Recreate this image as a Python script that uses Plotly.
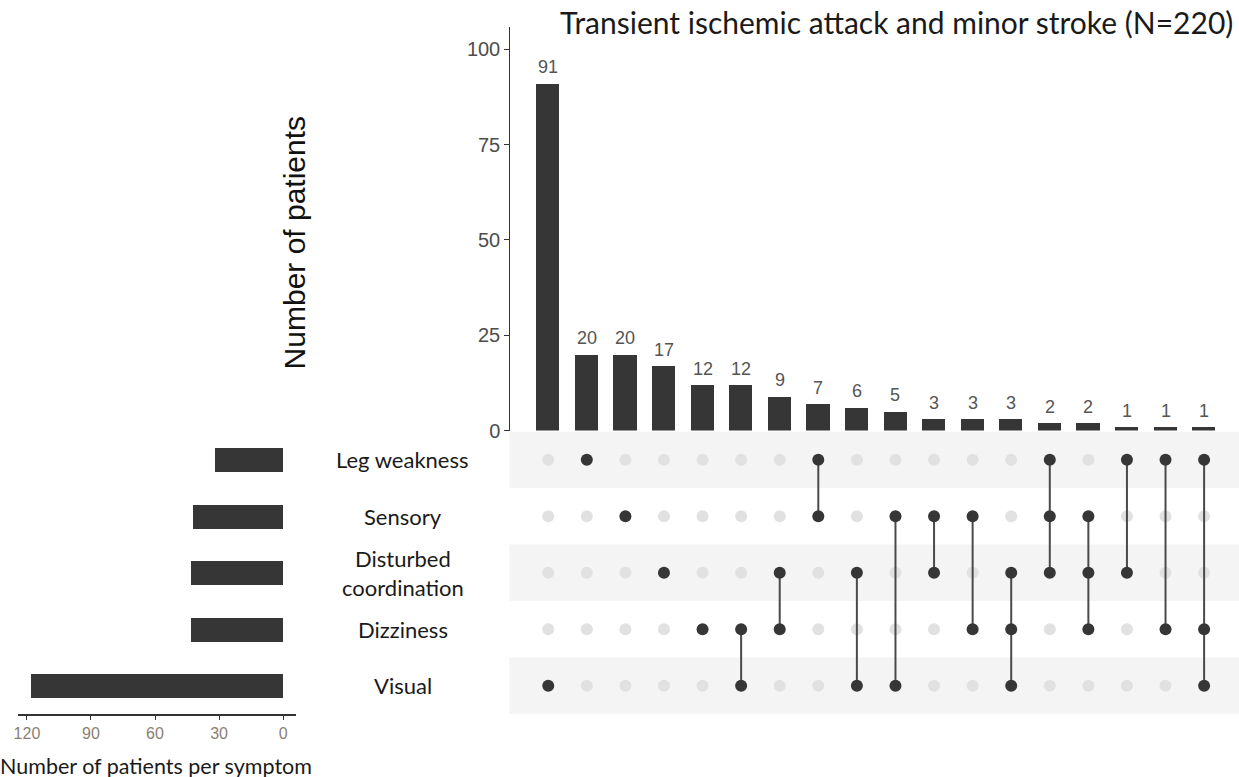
import plotly.graph_objects as go

# ---- data -------------------------------------------------------------
symptoms = ["Leg weakness", "Sensory", "Disturbed coordination", "Dizziness", "Visual"]
symptom_labels = ["Leg weakness", "Sensory", "Disturbed<br>coordination", "Dizziness", "Visual"]
symptom_totals = [32, 42, 43, 43, 118]

combo_counts = [91, 20, 20, 17, 12, 12, 9, 7, 6, 5, 3, 3, 3, 2, 2, 1, 1, 1]
combo_members = [
    ["Visual"],
    ["Leg weakness"],
    ["Sensory"],
    ["Disturbed coordination"],
    ["Dizziness"],
    ["Dizziness", "Visual"],
    ["Disturbed coordination", "Dizziness"],
    ["Leg weakness", "Sensory"],
    ["Disturbed coordination", "Visual"],
    ["Sensory", "Visual"],
    ["Sensory", "Disturbed coordination"],
    ["Sensory", "Dizziness"],
    ["Disturbed coordination", "Dizziness", "Visual"],
    ["Leg weakness", "Sensory", "Disturbed coordination"],
    ["Sensory", "Disturbed coordination", "Dizziness"],
    ["Leg weakness", "Disturbed coordination"],
    ["Leg weakness", "Dizziness"],
    ["Leg weakness", "Dizziness", "Visual"],
]

main_ticks = [0, 25, 50, 75, 100]
side_ticks = [0, 30, 60, 90, 120]

title_text = "Transient ischemic attack and minor stroke (N=220)"
y_title = "Number of patients"
side_title = "Number of patients per symptom"

# ---- layout helpers (pixel -> paper) ---------------------------------
W, H = 1239, 789
KY = 1.0155  # vertical stretch of the layout grid


def px(x):
    return x / W


def py(y):
    return max(0.0, 1 - y * KY / H)


DARK = "#363636"
INACTIVE = "#e1e1e1"
STRIPE = "#f4f4f4"
NARROW = "Liberation Sans Narrow, Arial Narrow, Liberation Sans, Arial"
HUMANIST = "Lato, Open Sans, sans-serif"

n_combo = len(combo_counts)
cols = list(range(n_combo))
# top row = first symptom
row_of = {s: len(symptoms) - 1 - i for i, s in enumerate(symptoms)}

# main bar panel: 0 at y=430, 100 at y=49.3, axis line starts at y=26.7
unit = (430 - 49.3) / 100.0
y_top = (430 - 26.7) / unit

fig = go.Figure()

# intersection size bars
fig.add_trace(go.Bar(
    x=cols, y=combo_counts, width=0.6,
    marker=dict(color=DARK, line=dict(width=0)),
    xaxis="x", yaxis="y", showlegend=False,
))

# matrix: background dots
bg_x, bg_y = [], []
for c in cols:
    for s in symptoms:
        if s not in combo_members[c]:
            bg_x.append(c)
            bg_y.append(row_of[s])
fig.add_trace(go.Scatter(
    x=bg_x, y=bg_y, mode="markers",
    marker=dict(size=12, color=INACTIVE),
    xaxis="x", yaxis="y2", showlegend=False,
))

# matrix: connecting lines
ln_x, ln_y = [], []
for c in cols:
    rows = [row_of[s] for s in combo_members[c]]
    if len(rows) > 1:
        ln_x += [c, c, None]
        ln_y += [min(rows), max(rows), None]
fig.add_trace(go.Scatter(
    x=ln_x, y=ln_y, mode="lines",
    line=dict(color="#4a4a4a", width=2),
    xaxis="x", yaxis="y2", showlegend=False,
))

# matrix: active dots
on_x, on_y = [], []
for c in cols:
    for s in combo_members[c]:
        on_x.append(c)
        on_y.append(row_of[s])
fig.add_trace(go.Scatter(
    x=on_x, y=on_y, mode="markers",
    marker=dict(size=12, color=DARK),
    xaxis="x", yaxis="y2", showlegend=False,
))

# per-symptom totals (mirrored horizontal bars)
fig.add_trace(go.Bar(
    x=symptom_totals, y=[row_of[s] for s in symptoms], orientation="h",
    width=0.43, marker=dict(color=DARK, line=dict(width=0)),
    xaxis="x3", yaxis="y3", showlegend=False,
))

# alternating row stripes
shapes = []
for s in symptoms:
    r = row_of[s]
    if r % 2 == 0:
        shapes.append(dict(
            type="rect", xref="paper", yref="y2",
            x0=px(507), x1=1, y0=r - 0.5, y1=r + 0.5,
            fillcolor=STRIPE, line=dict(width=0), layer="below",
        ))

annotations = [
    dict(text=title_text, x=px(895), y=py(22), xref="paper", yref="paper",
         xanchor="center", yanchor="middle", showarrow=False,
         font=dict(family=HUMANIST, size=30, color="#1a1a1a")),
    dict(text=y_title, x=px(291), y=py(243), xref="paper", yref="paper",
         xanchor="center", yanchor="middle", showarrow=False, textangle=-90,
         font=dict(family="Liberation Sans, Arial", size=30, color="#111111")),
    dict(text=side_title, x=px(152), y=py(765), xref="paper", yref="paper",
         xanchor="center", yanchor="middle", showarrow=False,
         font=dict(family=HUMANIST, size=21.5, color="#1a1a1a")),
]
# count labels above the intersection bars
for c, v in zip(cols, combo_counts):
    annotations.append(dict(
        text=str(v), x=c, y=v, xref="x", yref="y",
        xanchor="center", yanchor="middle", yshift=16 * KY, showarrow=False,
        font=dict(family=NARROW, size=18, color="#555555"),
    ))
for s, lab in zip(symptoms, symptom_labels):
    annotations.append(dict(
        text=lab, x=px(400), y=row_of[s], xref="paper", yref="y2",
        xanchor="center", yanchor="middle", showarrow=False,
        font=dict(family=HUMANIST, size=22, color="#1a1a1a"),
    ))

step = (1204 - 546) / (n_combo - 1)
fig.update_layout(
    width=W, height=H,
    margin=dict(l=0, r=0, t=0, b=0),
    paper_bgcolor="white", plot_bgcolor="rgba(0,0,0,0)",
    bargap=0,
    shapes=shapes,
    annotations=annotations,
    xaxis=dict(domain=[px(508), 1],
               range=[(508 - 546) / step, (1239 - 546) / step],
               visible=False, anchor="y"),
    yaxis=dict(domain=[py(430), py(26.7)], range=[0, y_top],
               tickvals=main_ticks, ticks="outside", ticklen=5,
               tickcolor="#333333", showline=True, linecolor="#333333",
               linewidth=1.2, showgrid=False, zeroline=False,
               tickfont=dict(family=NARROW, size=20, color="#4d4d4d"),
               anchor="x"),
    yaxis2=dict(domain=[py(713), py(431)], range=[-0.5, len(symptoms) - 0.5],
                visible=False, anchor="x"),
    xaxis3=dict(domain=[px(14), px(293)],
                range=[(280 - 14) / 2.1417, (280 - 293) / 2.1417],
                tickvals=side_ticks, ticks="outside", ticklen=4,
                tickcolor="#333333", showline=True, linecolor="#333333",
                linewidth=1.5, showgrid=False, zeroline=False,
                tickfont=dict(family=NARROW, size=16, color="#8a7f74"),
                anchor="y3"),
    yaxis3=dict(domain=[py(713), py(431)], range=[-0.5, len(symptoms) - 0.5],
                visible=False, anchor="x3"),
)

fig.write_html("out.html")
